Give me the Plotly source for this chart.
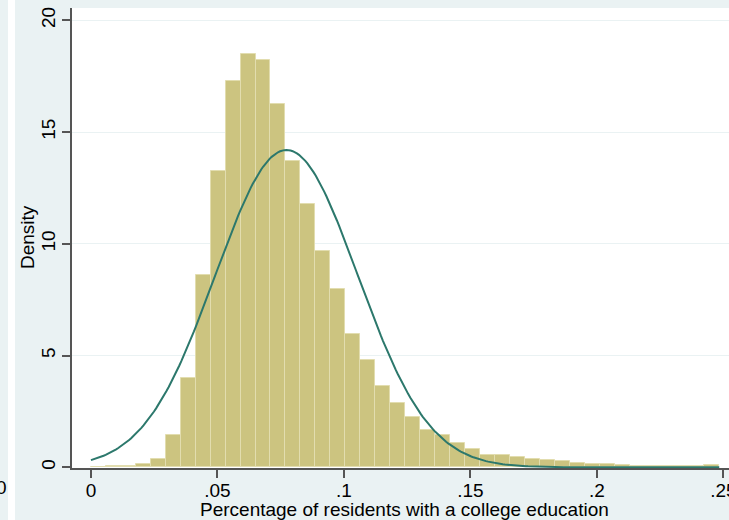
import plotly.graph_objects as go
import math

# Histogram data (density per bin)
bin_start = 0.0
bin_width = 0.005913
density = [0.02, 0.07, 0.07, 0.13, 0.36, 1.45, 3.99, 8.61, 13.28, 17.27,
           18.51, 18.21, 16.26, 13.72, 11.78, 9.69, 7.97, 5.97, 4.78, 3.65,
           2.87, 2.24, 1.67, 1.45, 1.07, 0.82, 0.55, 0.55, 0.47, 0.36,
           0.31, 0.27, 0.21, 0.17, 0.13, 0.10, 0.08, 0.06, 0.05, 0.05,
           0.04, 0.10]

# Normal overlay parameters
norm_mean = 0.0773
norm_sd = 0.0281

x_ticks = [0, 0.05, 0.1, 0.15, 0.2, 0.25]
x_tick_labels = ["0", ".05", ".1", ".15", ".2", ".25"]
y_ticks = [0, 5, 10, 15, 20]
y_tick_labels = ["0", "5", "10", "15", "20"]

x_title = "Percentage of residents with a college education"
y_title = "Density"

centers = [bin_start + (i + 0.5) * bin_width for i in range(len(density))]
x_max = bin_start + len(density) * bin_width
n_pts = 300
cx = [bin_start + (x_max - bin_start) * k / (n_pts - 1) for k in range(n_pts)]
cy = [math.exp(-0.5 * ((v - norm_mean) / norm_sd) ** 2) / (norm_sd * math.sqrt(2 * math.pi)) for v in cx]

FONT = "Liberation Sans, Arial, sans-serif"
BG = "#EAF2F3"
L, T, PW, PH = 72, 8, 657, 460

fig = go.Figure()
fig.add_trace(go.Bar(
    x=centers, y=density, width=bin_width,
    marker=dict(color="rgb(204,196,128)", line=dict(color="rgb(226,221,175)", width=1)),
    showlegend=False, hoverinfo="skip",
))
fig.add_trace(go.Scatter(
    x=cx, y=cy, mode="lines",
    line=dict(color="rgb(44,120,108)", width=2),
    showlegend=False, hoverinfo="skip",
))

fig.update_layout(
    width=729, height=520,
    margin=dict(l=L, r=0, t=T, b=520 - T - PH, autoexpand=False),
    paper_bgcolor=BG, plot_bgcolor="white",
    bargap=0,
    font=dict(family=FONT, size=19, color="black"),
    xaxis=dict(
        range=[-0.0075, 0.2522], automargin=False,
        tickmode="array", tickvals=x_ticks, ticktext=x_tick_labels,
        ticks="outside", ticklen=8, tickwidth=1.5, tickcolor="#555555",
        showline=True, linecolor="#555555", linewidth=1.5,
        showgrid=False, zeroline=False,
        tickfont=dict(size=19), ticklabeloverflow="allow",
        ticklabelstandoff=-4,
    ),
    yaxis=dict(
        range=[-0.03, 20.55], automargin=False,
        tickmode="array", tickvals=y_ticks, ticktext=y_tick_labels,
        tickangle=-90,
        ticks="outside", ticklen=8, tickwidth=1.5, tickcolor="#555555",
        showline=True, linecolor="#555555", linewidth=1.5,
        showgrid=True, gridcolor=BG, gridwidth=1,
        zeroline=False,
        tickfont=dict(size=19), ticklabeloverflow="allow",
        ticklabelstandoff=0,
    ),
)

def px(xp):
    return (xp - L) / PW

def py(yp):
    return (T + PH - yp) / PH

# axis titles
fig.add_annotation(xref="paper", yref="paper", x=px(404), y=py(509), text=x_title,
                   showarrow=False, xanchor="center", yanchor="middle",
                   font=dict(family=FONT, size=19, color="black"))
fig.add_annotation(xref="paper", yref="paper", x=px(27), y=py(237), text=y_title,
                   showarrow=False, xanchor="center", yanchor="middle", textangle=-90,
                   font=dict(family=FONT, size=19, color="black"))

# neighbouring-panel strip on the far left (cropped screenshot)
fig.add_shape(type="rect", xref="paper", yref="paper",
              x0=px(8), x1=px(15), y0=py(530), y1=py(-10),
              fillcolor="white", line=dict(width=0), layer="above")
fig.add_annotation(xref="paper", yref="paper", x=px(1), y=py(487),
                   text="0", showarrow=False, xanchor="center", yanchor="middle",
                   font=dict(family=FONT, size=19, color="black"))

fig.write_html("out.html", config={"displayModeBar": False},
               post_script="document.body.style.margin='0';document.body.style.overflow='hidden';")
